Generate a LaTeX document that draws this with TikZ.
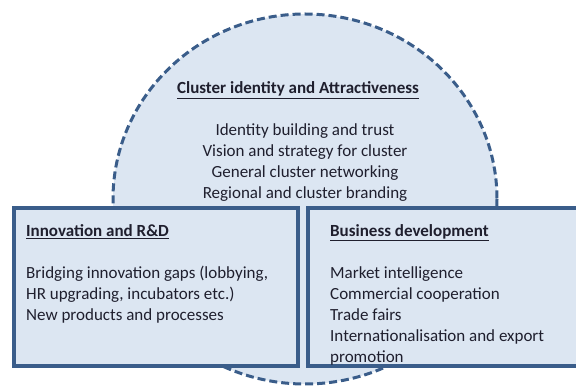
\documentclass[tikz,border=0pt]{standalone}
\usepackage{fontspec}
\setmainfont{Carlito}
\usepackage{tikz}
\usetikzlibrary{positioning}
\definecolor{fillblue}{HTML}{DCE6F2}
\definecolor{lineblue}{HTML}{3A5D8A}
\definecolor{textdark}{HTML}{1F1F2E}

\begin{document}
\begin{tikzpicture}[
  x=1pt, y=-1pt,
  areabox/.style={draw=lineblue, line width=4pt, fill=fillblue},
  heading/.style={font=\fontsize{17}{20}\selectfont\bfseries, text=textdark, inner sep=0pt},
  itemtext/.style={font=\fontsize{17}{21}\selectfont, text=textdark, inner sep=0pt}
]
\useasboundingbox (0,0) rectangle (576,387);

% Dashed circle behind the two boxes
\draw[lineblue, line width=3pt, dash pattern=on 8pt off 4pt, fill=fillblue]
  (305,199) ellipse [x radius=192, y radius=185];

% Two boxes
\draw[areabox] (14,208) rectangle (298,366);
\draw[areabox] (308,208) rectangle (582,366);

% Circle text
\node[heading] (identity) at (298,90) {\underline{Cluster identity and Attractiveness}};
\node[itemtext, align=center, anchor=north] (identitylist) at (305,123)
  {Identity building and trust\\
   Vision and strategy for cluster\\
   General cluster networking\\
   Regional and cluster branding};

% Left box text
\node[heading, anchor=west] (innovation) at (26,232) {\underline{Innovation and R\&D}};
\node[itemtext, align=left, anchor=north west] (innovationlist) at (26,266)
  {Bridging innovation gaps (lobbying,\\
   HR upgrading, incubators etc.)\\
   New products and processes};

% Right box text
\node[heading, anchor=west] (business) at (330,233) {\underline{Business development}};
\node[itemtext, align=left, anchor=north west] (businesslist) at (330,266)
  {Market intelligence\\
   Commercial cooperation\\
   Trade fairs\\
   Internationalisation and export\\
   promotion};
\end{tikzpicture}
\end{document}
